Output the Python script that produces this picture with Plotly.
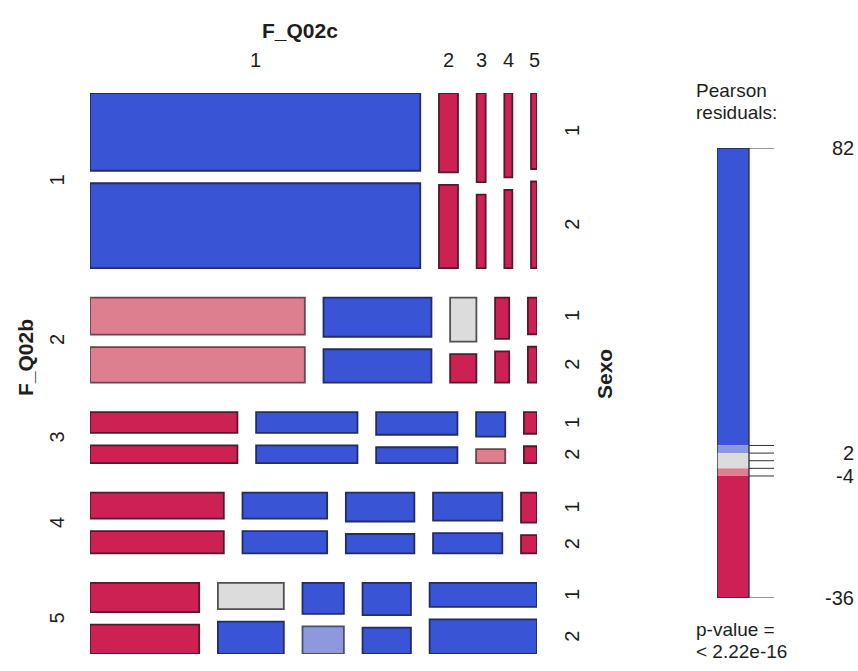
import plotly.graph_objects as go

# ---------------- data ----------------
rows_b = ["1", "2", "3", "4", "5"]      # F_Q02b levels
cols_c = ["1", "2", "3", "4", "5"]      # F_Q02c levels
sexo = ["1", "2"]                       # Sexo levels

# counts per F_Q02b row: list over F_Q02c of [Sexo=1, Sexo=2]
counts_b1 = [[3621, 3955], [213, 223], [113, 93], [95, 88], [64, 73]]
counts_b2 = [[1118, 1075], [595, 507], [163, 105], [82, 62], [47, 46]]
counts_b3 = [[432, 368], [297, 253], [260, 181], [101, 57], [40, 31]]
counts_b4 = [[492, 420], [312, 265], [280, 187], [274, 198], [68, 41]]
counts_b5 = [[452, 451], [245, 300], [181, 161], [220, 180], [364, 524]]

# residual shading class: 2 (>4), 1 (2..4), 0 (-2..2), -1 (-4..-2), -2 (<-4)
shade_b1 = [[2, 2], [-2, -2], [-2, -2], [-2, -2], [-2, -2]]
shade_b2 = [[-1, -1], [2, 2], [0, -2], [-2, -2], [-2, -2]]
shade_b3 = [[-2, -2], [2, 2], [2, 2], [2, -1], [-2, -2]]
shade_b4 = [[-2, -2], [2, 2], [2, 2], [2, 2], [-2, -2]]
shade_b5 = [[-2, -2], [0, 2], [2, 1], [2, 2], [2, 2]]

legend_breaks = [82, 4, 2, -2, -4, -36]
legend_classes = [2, 1, 0, -1, -2]
legend_ticks = [82, 4, 2, 0, -2, -4, -36]
legend_labels = [(82, "82"), (2, "2"), (-4, "-4"), (-36, "-36")]
legend_title = ["Pearson", "residuals:"]
pvalue_lines = ["p-value =", "< 2.22e-16"]

counts = [counts_b1, counts_b2, counts_b3, counts_b4, counts_b5]
shades = [shade_b1, shade_b2, shade_b3, shade_b4, shade_b5]

# ---------------- styles ----------------
W, H = 858, 671
FILL = {2: "#3a54d6", 1: "#8e98dc", 0: "#dcdcdc", -1: "#de7f8f", -2: "#cd2153"}
EDGE = {2: "#232c66", 1: "#4b4f72", 0: "#505050", -1: "#6a444c", -2: "#561830"}
TXT = "#1e1e1e"
FONT = "Liberation Sans, Arial, sans-serif"
LAB_SIZE = 20
TITLE_SIZE = 21

def px(x):
    return x / W

def py(y):
    return 1 - y / H

# mosaic region (pixels) and gaps as fraction of region
MX0, MX1, MY0, MY1 = 90, 537, 93, 654
cg = 18.7 / (MX1 - MX0)
rg = 29.5 / (MY1 - MY0)
sg = 12.5 / (MY1 - MY0)

fig = go.Figure()
shapes = []
annotations = []

total = sum(sum(sum(c) for c in row) for row in counts)
avail_h = 1 - 4 * rg - 5 * sg
y = 0.0
row_centers = []
top_col_centers = []
right_sexo_centers = []
for bi, row in enumerate(counts):
    rtot = sum(sum(c) for c in row)
    hb = rtot / total * avail_h + sg
    row_centers.append(y + hb / 2)
    x = 0.0
    avail_w = 1 - 4 * cg
    for ci, cell in enumerate(row):
        ctot = sum(cell)
        wc = ctot / rtot * avail_w
        yy = y
        for si, n in enumerate(cell):
            hs = n / ctot * (hb - sg)
            k = shades[bi][ci][si]
            shapes.append(dict(type="rect", xref="x", yref="y",
                               x0=x, x1=x + wc, y0=yy, y1=yy + hs,
                               fillcolor=FILL[k], line=dict(color=EDGE[k], width=1.8),
                               layer="above"))
            if ci == len(row) - 1:
                right_sexo_centers.append(yy + hs / 2)
            yy += hs + sg
        if bi == 0:
            top_col_centers.append(x + wc / 2)
        x += wc + cg
    y += hb + rg

# invisible traces to hold the axes
fig.add_trace(go.Scatter(x=[0, 1], y=[0, 1], mode="markers",
                         marker=dict(opacity=0), hoverinfo="skip",
                         showlegend=False, xaxis="x", yaxis="y"))
fig.add_trace(go.Scatter(x=[0, 1], y=[-36, 82], mode="markers",
                         marker=dict(opacity=0), hoverinfo="skip",
                         showlegend=False, xaxis="x2", yaxis="y2"))

def mx_to_paper(v):
    return px(MX0 + v * (MX1 - MX0))

def my_to_paper(v):
    return py(MY0 + v * (MY1 - MY0))

def ann(x, y, text, size=LAB_SIZE, angle=0, xanchor="center", yref="paper"):
    annotations.append(dict(x=x, y=y, xref="paper", yref=yref, text=text,
                            showarrow=False, textangle=angle,
                            font=dict(size=size, color=TXT, family=FONT),
                            xanchor=xanchor, yanchor="middle"))

for lab, cx in zip(cols_c, top_col_centers):
    ann(mx_to_paper(cx), py(60), lab)
ann(px(300), py(30), "<b>F_Q02c</b>", size=TITLE_SIZE)
for lab, cy in zip(rows_b, row_centers):
    ann(px(57), my_to_paper(cy), lab, angle=-90)
ann(px(25), py(358), "<b>F_Q02b</b>", size=TITLE_SIZE, angle=-90)
for i, cy in enumerate(right_sexo_centers):
    ann(px(572), my_to_paper(cy), sexo[i % 2], angle=-90)
ann(px(605), py(374), "<b>Sexo</b>", size=TITLE_SIZE, angle=-90)

# legend bar
for (hi, lo), k in zip(zip(legend_breaks[:-1], legend_breaks[1:]), legend_classes):
    shapes.append(dict(type="rect", xref="x2", yref="y2", x0=0, x1=1, y0=lo, y1=hi,
                       fillcolor=FILL[k], line=dict(width=0), layer="above"))
shapes.append(dict(type="rect", xref="x2", yref="y2", x0=0, x1=1,
                   y0=legend_breaks[-1], y1=legend_breaks[0],
                   fillcolor="rgba(0,0,0,0)", line=dict(color="#262840", width=1.3),
                   layer="above"))
LEG_X0, LEG_X1, TICK_X1 = 717, 749, 774
tick_end = (TICK_X1 - LEG_X0) / (LEG_X1 - LEG_X0)
for t in legend_ticks:
    shapes.append(dict(type="line", xref="x2", yref="y2", x0=1, x1=tick_end, y0=t, y1=t,
                       line=dict(color="#333333", width=1), layer="above"))
for v, lab in legend_labels:
    ann(px(856), v, lab, xanchor="right", yref="y2")
ann(px(694), py(91), legend_title[0], size=19, xanchor="left")
ann(px(694), py(113), legend_title[1], size=19, xanchor="left")
ann(px(694), py(629), pvalue_lines[0], size=19, xanchor="left")
ann(px(694), py(651), pvalue_lines[1], size=19, xanchor="left")

fig.update_layout(
    width=W, height=H,
    margin=dict(l=0, r=0, t=0, b=0),
    paper_bgcolor="white", plot_bgcolor="rgba(0,0,0,0)",
    showlegend=False,
    xaxis=dict(domain=[px(MX0), px(MX1)], range=[0, 1], visible=False, fixedrange=True),
    yaxis=dict(domain=[py(MY1), py(MY0)], range=[1, 0], visible=False, fixedrange=True),
    xaxis2=dict(domain=[px(LEG_X0), px(TICK_X1)], range=[0, tick_end], visible=False,
                anchor="y2", fixedrange=True),
    yaxis2=dict(domain=[py(598), py(148)], range=[-36, 82], visible=False,
                anchor="x2", fixedrange=True),
    shapes=shapes,
    annotations=annotations,
)

fig.write_html("out.html")
